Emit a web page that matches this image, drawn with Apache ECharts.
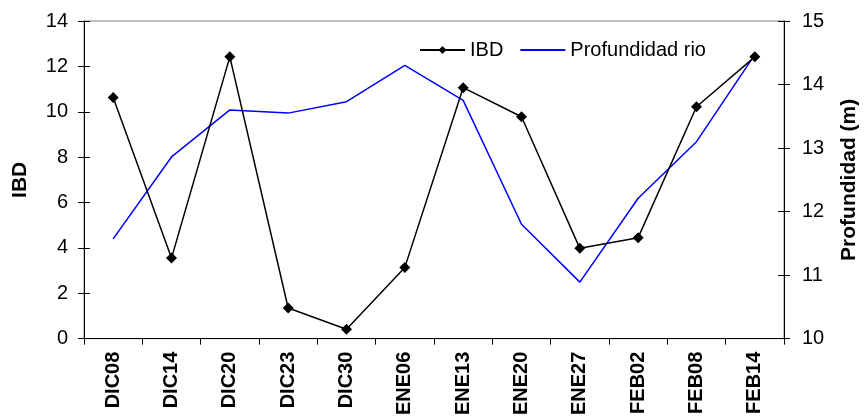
<!DOCTYPE html>
<html><head><meta charset="utf-8">
<script src="https://cdn.jsdelivr.net/npm/echarts@6/dist/echarts.min.js"></script>
<style>html,body{margin:0;padding:0;background:#fff}#c{width:868px;height:418px}</style>
</head><body><div id="c"></div>
<script>
const categories = ['DIC08','DIC14','DIC20','DIC23','DIC30','ENE06','ENE13','ENE20','ENE27','FEB02','FEB08','FEB14'];
const ibd = [10.63, 3.55, 12.42, 1.35, 0.41, 3.14, 11.06, 9.78, 3.98, 4.45, 10.22, 12.42];
const profundidad = [11.57, 12.86, 13.60, 13.55, 13.73, 14.30, 13.75, 11.80, 10.89, 12.21, 13.10, 14.47];
const leftTicks = {min: 0, max: 14, interval: 2};
const rightTicks = {min: 10, max: 15, interval: 1};

const font = 'Liberation Sans, Arial, sans-serif';
const chart = echarts.init(document.getElementById('c'));
chart.setOption({
  animation: false,
  grid: {left: 84, right: 73, top: 21, bottom: 76, show: true, borderColor: '#808080', borderWidth: 1},
  legend: {
    top: 35, left: 414, itemGap: 16, itemWidth: 45, itemHeight: 10,
    textStyle: {fontFamily: font, fontSize: 20, color: '#000'},
    data: [{name: 'IBD'}, {name: 'Profundidad rio', itemStyle: {opacity: 0}}]
  },
  xAxis: {
    type: 'category', data: categories, boundaryGap: true,
    axisLine: {lineStyle: {color: '#000', width: 1}},
    axisTick: {show: true, inside: false, length: 6, lineStyle: {color: '#000'}},
    axisLabel: {rotate: 90, fontFamily: font, fontSize: 20, fontWeight: 'bold', color: '#000', margin: 13}
  },
  yAxis: [
    {type: 'value', min: leftTicks.min, max: leftTicks.max, interval: leftTicks.interval, position: 'left',
     name: 'IBD', nameLocation: 'middle', nameGap: 53, nameRotate: 90,
     nameTextStyle: {fontFamily: font, fontSize: 21, fontWeight: 'bold', color: '#000'},
     axisLine: {show: true, lineStyle: {color: '#000'}},
     axisTick: {show: true, length: 6, lineStyle: {color: '#000'}},
     axisLabel: {fontFamily: font, fontSize: 20, color: '#000', margin: 16},
     splitLine: {show: false}},
    {type: 'value', min: rightTicks.min, max: rightTicks.max, interval: rightTicks.interval, position: 'right',
     name: 'Profundidad (m)', nameLocation: 'middle', nameGap: 55, nameRotate: 90,
     nameTextStyle: {fontFamily: font, fontSize: 21, fontWeight: 'bold', color: '#000'},
     axisLine: {show: true, lineStyle: {color: '#000'}},
     axisTick: {show: true, length: 6, lineStyle: {color: '#000'}},
     axisLabel: {fontFamily: font, fontSize: 20, color: '#000', margin: 18},
     splitLine: {show: false}},
    {type: 'value', min: leftTicks.min, max: leftTicks.max, interval: leftTicks.interval, position: 'left',
     axisLine: {show: false}, axisTick: {show: true, inside: true, length: 6, lineStyle: {color: '#000'}},
     axisLabel: {show: false}, splitLine: {show: false}},
    {type: 'value', min: rightTicks.min, max: rightTicks.max, interval: rightTicks.interval, position: 'right',
     axisLine: {show: false}, axisTick: {show: true, inside: true, length: 6, lineStyle: {color: '#000'}},
     axisLabel: {show: false}, splitLine: {show: false}}
  ],
  series: [
    {name: 'Profundidad rio', type: 'line', yAxisIndex: 1, data: profundidad, symbol: 'none',
     lineStyle: {color: '#0000ff', width: 1.5}, itemStyle: {color: '#0000ff'}, z: 2},
    {name: 'IBD', type: 'line', yAxisIndex: 0, data: ibd, symbol: 'diamond', symbolSize: 11,
     lineStyle: {color: '#000', width: 1.5}, itemStyle: {color: '#000'}, z: 3}
  ]
});
</script></body></html>
